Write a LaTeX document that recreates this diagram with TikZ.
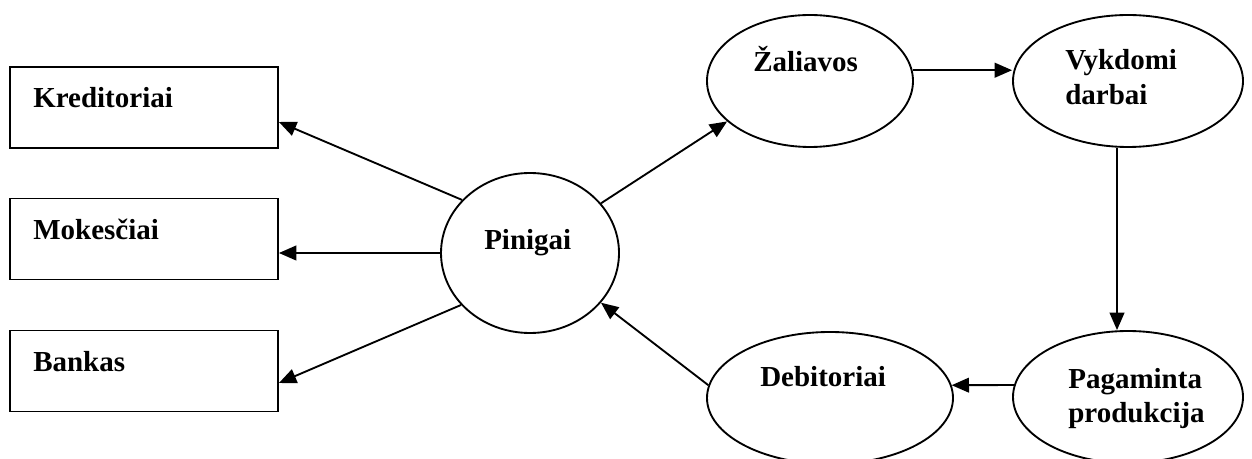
\documentclass[tikz,border=0pt]{standalone}
\usepackage{fontspec}
\setmainfont{Liberation Serif}
\usetikzlibrary{shapes.geometric,arrows.meta,calc}
\tikzset{
  box/.style={draw, line width=1.4pt, rectangle, inner sep=0pt, minimum width=201pt, minimum height=60.75pt},
  ell/.style={draw, line width=1.4pt, ellipse, inner sep=0pt},
  lbl/.style={anchor=base west, inner sep=0pt, font=\fontsize{21.75}{26}\selectfont\bfseries},
  arr/.style={line width=1.4pt, -{Triangle[length=13pt, width=11pt]}}
}
\begin{document}
\begin{tikzpicture}[x=0.75pt, y=-0.75pt]
\useasboundingbox[fill=white] (0,0) rectangle (1252,459);
% boxes
\node[box] (kred) at (144,107.5) {};
\node[box] (mok) at (144,239) {};
\node[box] (bank) at (144,371) {};
\node[lbl] (kredt) at (33,108) {Kreditoriai};
\node[lbl] (mokt) at (33,240) {Mokesčiai};
\node[lbl] (bankt) at (33,372) {Bankas};
% ellipses
\node[ell, minimum width=133.5pt, minimum height=120pt] (pin) at (530,253) {};
\node[ell, minimum width=154.5pt, minimum height=99pt] (zal) at (810,81) {};
\node[ell, minimum width=172.5pt, minimum height=99pt] (vyk) at (1128,81) {};
\node[ell, minimum width=172.5pt, minimum height=99pt] (pag) at (1128,397) {};
\node[ell, minimum width=184.5pt, minimum height=99pt] (deb) at (830,398) {};
\node[lbl] (pint) at (484,250) {Pinigai};
\node[lbl] (zalt) at (753,72) {Žaliavos};
\node[lbl] (vykt1) at (1065,70) {Vykdomi};
\node[lbl] (vykt2) at (1065,105) {darbai};
\node[lbl] (pagt1) at (1068,388) {Pagaminta};
\node[lbl] (pagt2) at (1068,422) {produkcija};
\node[lbl] (debt) at (760,387) {Debitoriai};
% connectors
\draw[arr] (pin.142) -- ($(kred.east)+(0,14.5)$);
\draw[arr] (pin.180) -- (pin.180 -| mok.east);
\draw[arr] (pin.217) -- ($(bank.east)+(0,12)$);
\draw[arr] (pin.35) -- (zal.206.8);
\draw[arr] (zal.6.8) -- (zal.6.8 -| vyk.west);
\draw[arr] ($(vyk.south)+(-11,0)$) -- ($(pag.north)+(-11,0)$);
\draw[arr] (pag.174) -- (deb.6.15);
\draw[arr] (deb.174.4) -- (pin.-35);
\end{tikzpicture}
\end{document}
